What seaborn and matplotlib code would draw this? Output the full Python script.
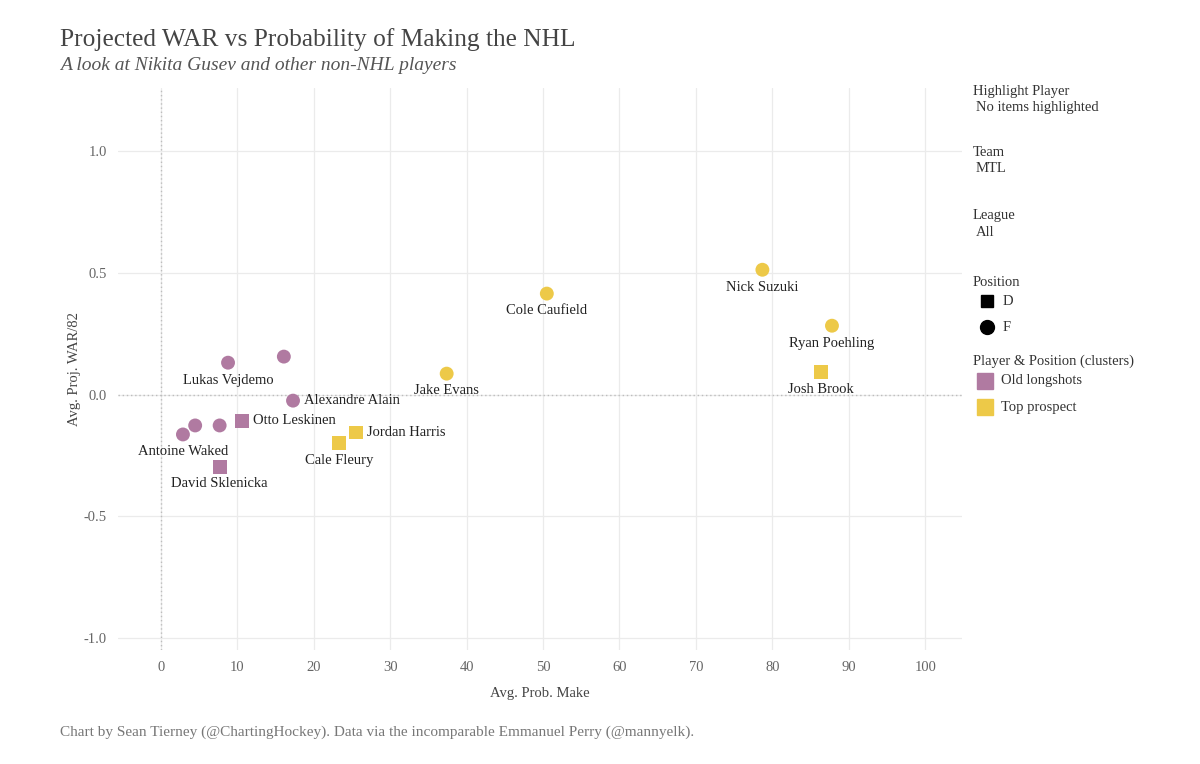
import matplotlib
matplotlib.use("Agg")
import matplotlib.pyplot as plt
import seaborn as sns
import pandas as pd
from matplotlib.lines import Line2D

# ---- data ----
players = ["Lukas Vejdemo", "", "Alexandre Alain", "Otto Leskinen", "Antoine Waked", "", "",
           "David Sklenicka", "Cale Fleury", "Jordan Harris", "Jake Evans", "Cole Caufield",
           "Nick Suzuki", "Ryan Poehling", "Josh Brook"]
prob_make = [8.8, 16.1, 17.3, 10.6, 2.9, 4.5, 7.7, 7.7, 23.3, 25.5, 37.4, 50.5, 78.7, 87.8, 86.4]
proj_war = [0.131, 0.156, -0.025, -0.107, -0.164, -0.127, -0.127, -0.296, -0.200, -0.156,
            0.086, 0.415, 0.513, 0.283, 0.094]
position = ["F", "F", "F", "D", "F", "F", "F", "D", "D", "D", "F", "F", "F", "F", "D"]
cluster = ["Old longshots"] * 8 + ["Top prospect"] * 7
label_side = ["below", "", "right", "right", "below", "", "", "below", "below", "right",
              "below", "below", "below", "below", "below"]

x_ticks = [0, 10, 20, 30, 40, 50, 60, 70, 80, 90, 100]
y_ticks = [-1.0, -0.5, 0.0, 0.5, 1.0]
y_tick_labels = ["-1.0", "-0.5", "0.0", "0.5", "1.0"]

df = pd.DataFrame({"player": players, "prob": prob_make, "war": proj_war,
                   "pos": position, "cluster": cluster, "side": label_side})

PURPLE = "#B07AA1"
YELLOW = "#EDC948"
palette = {"Old longshots": PURPLE, "Top prospect": YELLOW}

sns.set_theme(style="white")
plt.rcParams["font.family"] = ["Liberation Serif", "DejaVu Serif"]

fig = plt.figure(figsize=(12, 7.64), dpi=100)
ax = fig.add_axes([0.0983, 0.1492, 0.7033, 0.7356])

# grid
for xt in x_ticks:
    ax.axvline(xt, color="#ebebeb", lw=0.9, zorder=0)
for yt in y_ticks:
    ax.axhline(yt, color="#ebebeb", lw=0.9, zorder=0)
ax.axvline(0, color="#bdbdbd", lw=1.0, ls=(0, (1, 2)), zorder=1)
ax.axhline(0, color="#bdbdbd", lw=1.0, ls=(0, (1, 2)), zorder=1)

sns.scatterplot(data=df, x="prob", y="war", hue="cluster", style="pos",
                palette=palette, markers={"D": "s", "F": "o"}, s=100,
                linewidth=0, ax=ax, legend=False, zorder=3)

for _, r in df.iterrows():
    if not r["player"]:
        continue
    if r["side"] == "right":
        ax.annotate(r["player"], (r["prob"], r["war"]), xytext=(8, 0),
                    textcoords="offset points", ha="left", va="center",
                    fontsize=10.5, color="#222222")
    else:
        ax.annotate(r["player"], (r["prob"], r["war"]), xytext=(0, -12.5),
                    textcoords="offset points", ha="center", va="center",
                    fontsize=10.5, color="#222222")

ax.set_xlim(-5.6, 104.8)
ax.set_ylim(-1.05, 1.26)
ax.set_xticks(x_ticks)
ax.set_yticks(y_ticks)
ax.set_yticklabels(y_tick_labels)
ax.tick_params(axis="both", labelsize=10.5, labelcolor="#666666", length=0, pad=8)
for s in ax.spines.values():
    s.set_visible(False)
ax.set_xlabel("Avg. Prob. Make", fontsize=10.5, color="#444444", labelpad=9)
ax.set_ylabel("Avg. Proj. WAR/82", fontsize=10.5, color="#444444", labelpad=2)

# titles
fig.text(60 / 1200, 1 - 40 / 764, "Projected WAR vs Probability of Making the NHL",
         fontsize=18.3, color="#444444", va="center", ha="left")
fig.text(60 / 1200, 1 - 65 / 764, "A look at Nikita Gusev and other non-NHL players",
         fontsize=14, style="italic", color="#555555", va="center", ha="left")
fig.text(60 / 1200, 1 - 732 / 764,
         "Chart by Sean Tierney (@ChartingHockey). Data via the incomparable Emmanuel Perry (@mannyelk).",
         fontsize=11, color="#777777", va="center", ha="left")

# legend / filter panel
def ft(xp, yp, s, **kw):
    fig.text(xp / 1200, 1 - yp / 764, s, va="center", ha="left", fontsize=10.5,
             color="#333333", **kw)

ft(973, 91, "Highlight Player")
ft(976, 107, "No items highlighted")
ft(973, 152, "Team")
ft(976, 168, "MTL")
ft(973, 216, "League")
ft(976, 233, "All")
ft(973, 283, "Position")
ft(1003, 301, "D")
ft(1003, 327, "F")
ft(973, 361, "Player & Position (clusters)")
ft(1001, 381, "Old longshots")
ft(1001, 407, "Top prospect")

fig.add_artist(Line2D([987 / 1200], [1 - 301 / 764], marker="s", markersize=9,
                      color="black", lw=0, transform=fig.transFigure))
fig.add_artist(Line2D([987 / 1200], [1 - 327 / 764], marker="o", markersize=10,
                      color="black", lw=0, transform=fig.transFigure))
fig.add_artist(Line2D([985 / 1200], [1 - 381 / 764], marker="s", markersize=12,
                      color=PURPLE, lw=0, transform=fig.transFigure))
fig.add_artist(Line2D([985 / 1200], [1 - 407 / 764], marker="s", markersize=12,
                      color=YELLOW, lw=0, transform=fig.transFigure))

fig.savefig("out.png", dpi=100, facecolor="white")
